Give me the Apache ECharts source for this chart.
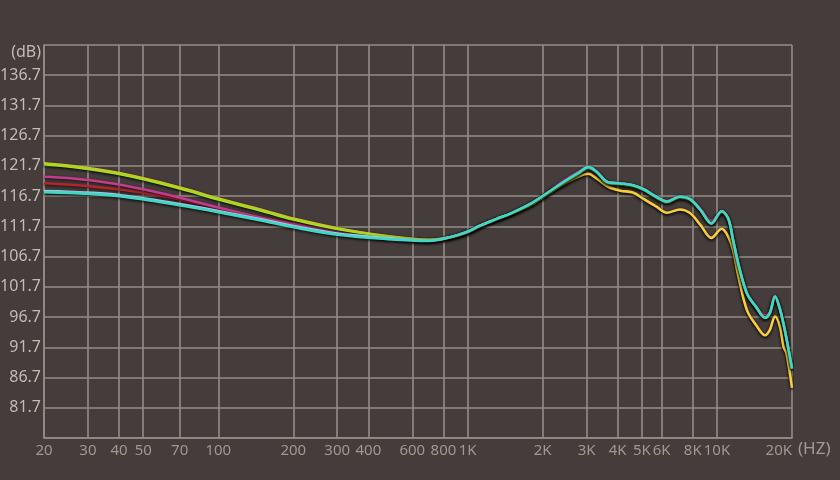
<!DOCTYPE html>
<html>
<head>
<meta charset="utf-8">
<script src="https://cdn.jsdelivr.net/npm/echarts@6/dist/echarts.min.js"></script>
<style>
html,body{margin:0;padding:0;background:#453d3b;}
#chart{width:840px;height:480px;}
</style>
</head>
<body>
<div id="chart"></div>
<script>
// Frequencies (Hz) shared by all curves
const freqs = [20, 25, 30, 40, 55, 75, 100, 150, 200, 300, 475, 700, 850, 1000, 1120, 1300, 1500, 1800, 2100, 2400, 2800, 3050, 3300, 3650, 4100, 4600, 5100, 5700, 6300, 7100, 7800, 8600, 9500, 10450, 11100, 11600, 12200, 13200, 14400, 15600, 16300, 17100, 17900, 18500, 19000, 20000];

const cyanDb = [117.35, 117.24, 117.09, 116.69, 115.9, 114.99, 114.05, 112.64, 111.56, 110.32, 109.6, 109.3, 109.9, 110.8, 111.8, 112.9, 113.9, 115.5, 117.3, 118.9, 120.6, 121.5, 120.7, 119.0, 118.8, 118.5, 117.8, 116.6, 115.8, 116.6, 116.2, 114.4, 112.2, 114.2, 113.0, 109.5, 105.4, 100.6, 98.3, 96.6, 97.4, 100.1, 98.0, 95.5, 93.2, 88.2];

const blueDb = [117.55, 117.44, 117.29, 116.89, 116.1, 115.19, 114.25, 112.84, 111.76, 110.52, 109.78, 109.35, 109.9, 110.8, 111.8, 112.9, 113.9, 115.5, 117.3, 118.9, 120.6, 121.5, 120.7, 119.0, 118.8, 118.5, 117.8, 116.6, 115.8, 116.6, 116.2, 114.4, 112.2, 114.2, 113.0, 109.5, 105.4, 100.6, 98.3, 96.6, 97.4, 100.1, 98.0, 95.5, 93.2, 88.2];

const greenDb = [121.97, 121.6, 121.19, 120.36, 119.09, 117.64, 116.15, 114.25, 112.84, 111.27, 110.03, 109.45, 109.85, 110.7, 111.7, 112.8, 113.8, 115.3, 117.1, 118.7, 120.4, 121.3, 120.55, 118.85, 118.65, 118.35, 117.65, 116.45, 115.65, 116.45, 116.05, 114.3, 112.1, 114.05, 112.9, 109.4, 105.3, 100.5, 98.2, 96.5, 97.3, 99.9, 97.9, 95.4, 93.1, 88.1];

const yellowDb = [122.12, 121.75, 121.34, 120.51, 119.24, 117.79, 116.3, 114.4, 112.99, 111.4, 110.1, 109.5, 109.9, 110.75, 111.75, 112.85, 113.85, 115.4, 117.1, 118.6, 120.0, 120.4, 119.6, 118.3, 117.6, 117.3, 116.2, 115.0, 113.95, 114.5, 113.9, 111.9, 109.8, 111.3, 110.0, 107.8, 103.4, 97.8, 95.3, 93.7, 94.6, 96.8, 95.1, 91.8, 90.7, 85.0];

const magentaDb = [119.92, 119.7, 119.37, 118.63, 117.47, 116.15, 114.82, 113.09, 112.1, 110.77, 109.81, 109.4, 109.9, 110.8, 111.8, 112.9, 113.9, 115.5, 117.3, 119.1, 120.8, 121.5, 120.7, 119.0, 118.8, 118.5, 117.8, 116.6, 115.9, 116.6, 116.2, 114.6, 112.6, 114.2, 113.0, 109.5, 105.4, 100.6, 98.3, 97.0, 97.5, 100.1, 98.0, 95.5, 93.2, 88.2];

const redDb = [118.83, 118.63, 118.38, 117.83, 116.97, 115.9, 114.66, 113.09, 112.18, 110.85, 109.86, 109.4, 109.9, 110.8, 111.8, 112.9, 113.9, 115.5, 117.3, 118.6, 120.0, 120.4, 119.6, 118.3, 117.6, 117.3, 116.2, 115.0, 113.95, 114.5, 113.9, 111.9, 109.8, 111.3, 110.0, 107.8, 103.4, 97.8, 95.3, 93.7, 94.6, 96.8, 95.1, 91.8, 90.7, 85.0];

// Axis ticks
const xTicks = [20, 30, 40, 50, 70, 100, 200, 300, 400, 600, 800, 1000, 2000, 3000, 4000, 5000, 6000, 8000, 10000, 20000];
const yMin = 76.7, yMax = 141.7, yStep = 5;

const FONT = "'Liberation Sans Narrow', 'Noto Sans', sans-serif";
const gridColor = '#958c87';

function pairs(vals) { return freqs.map((f, i) => [f, vals[i]]); }

function mkSeries(name, vals, color) {
  return {
    name: name, type: 'line', data: pairs(vals), smooth: 0.35, symbol: 'none',
    lineStyle: { color: color, width: 2.6, shadowColor: 'rgba(0,0,0,0.7)', shadowBlur: 3, shadowOffsetY: 1.2 },
    silent: true
  };
}

const chart = echarts.init(document.getElementById('chart'), null, { renderer: 'canvas' });
chart.setOption({
  backgroundColor: '#453d3b',
  animation: false,
  grid: { left: 44, right: 48, top: 45, bottom: 42, containLabel: false, outerBoundsMode: 'none' },
  xAxis: {
    type: 'log', logBase: 10, min: 20, max: 20000,
    name: '(HZ)', nameLocation: 'end', nameGap: 6,
    nameTextStyle: { color: '#a39a94', fontSize: 17, fontFamily: FONT, align: 'left', verticalAlign: 'top', padding: [3, 0, 0, 0] },
    axisLine: { show: true, lineStyle: { color: gridColor, width: 1.6 } },
    axisTick: { show: false, customValues: xTicks },
    axisLabel: {
      customValues: xTicks, color: '#a0978f', fontSize: 15, fontFamily: FONT, margin: 5,
      alignMaxLabel: 'right',
      formatter: v => v >= 1000 ? (v / 1000) + 'K' : String(v)
    },
    splitLine: { show: true, lineStyle: { color: gridColor, width: 1.6 } },
    minorTick: { show: false }, minorSplitLine: { show: false }
  },
  yAxis: {
    type: 'value', min: yMin, max: yMax, interval: yStep,
    axisLine: { show: true, lineStyle: { color: gridColor, width: 1.6 } },
    axisTick: { show: false },
    axisLabel: {
      color: '#c2bab5', fontSize: 16, fontFamily: FONT, margin: 3,
      formatter: v => Math.abs(v - yMax) < 0.01 ? '{db|(dB)}' : (Math.abs(v - yMin) < 0.01 ? '' : v.toFixed(1)),
      rich: { db: { color: '#c2bab5', fontSize: 16, fontFamily: FONT, padding: [14, 0, 0, 0] } }
    },
    splitLine: { show: true, lineStyle: { color: gridColor, width: 1.6 } }
  },
  series: [
    mkSeries('red', redDb, '#b3262e'),
    mkSeries('magenta', magentaDb, '#c43b8f'),
    mkSeries('yellow', yellowDb, '#f2d03c'),
    mkSeries('green', greenDb, '#a6dc1e'),
    mkSeries('lightblue', blueDb, '#a9d8f2'),
    mkSeries('cyan', cyanDb, '#3fd8c4')
  ]
});
</script>
</body>
</html>
